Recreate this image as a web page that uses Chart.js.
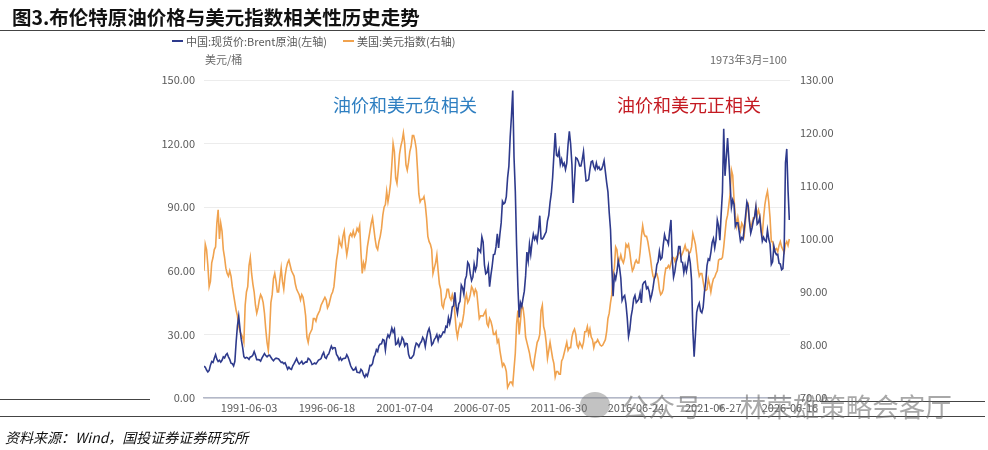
<!DOCTYPE html>
<html lang="zh">
<head>
<meta charset="UTF-8">
<title>布伦特原油与美元指数</title>
<script src="https://cdn.jsdelivr.net/npm/chart.js@4/dist/chart.umd.min.js"></script>
<style>
  body { margin: 0; background: #fff; font-family: "Noto Sans CJK SC", "Noto Sans", sans-serif; }
  #page { position: relative; width: 988px; height: 450px; overflow: hidden; background: #fff; }
  #page div { position: absolute; white-space: nowrap; }
  #title { left: 12px; top: 3px; font-size: 19.5px; font-weight: 700; color: #111; line-height: 28px; }
  .rule { height: 0; border-top: 1.5px solid #444; }
  .leg { font-size: 11px; color: #595959; top: 33px; line-height: 16px; }
  .sw { width: 11px; height: 0; top: 40px; border-top: 2.5px solid; }
  .unit { font-size: 11px; color: #6b6b6b; top: 51px; line-height: 16px; }
  .ann { font-size: 18px; top: 91px; line-height: 26px; }
  #src { left: 5px; top: 427px; font-size: 14px; font-style: italic; color: #111; line-height: 20px; }
  #wm { left: 622px; top: 389px; font-size: 26.5px; color: rgba(110,110,110,0.6); line-height: 34px; }
  #wmicon { left: 580px; top: 392px; width: 30px; height: 26px; border-radius: 50%; background: rgba(120,120,120,0.45); }
  canvas { position: absolute; left: 0; top: 0; }
</style>
</head>
<body>
<div id="page">
  <canvas id="myChart" width="988" height="450"></canvas>

  <div id="title">图3.布伦特原油价格与美元指数相关性历史走势</div>
  <div class="rule" style="left:0; top:30px; width:985px;"></div>

  <div class="sw" style="left:172px; border-color:#2e3a8c;"></div>
  <div class="leg" style="left:186px;">中国:现货价:Brent原油(左轴)</div>
  <div class="sw" style="left:343px; border-color:#f0a24e;"></div>
  <div class="leg" style="left:357px;">美国:美元指数(右轴)</div>

  <div class="unit" style="left:205px;">美元/桶</div>
  <div class="unit" style="left:710px;">1973年3月=100</div>

  <div class="ann" style="left:333px; color:#2f7fc1;">油价和美元负相关</div>
  <div class="ann" style="left:617px; color:#c41a22;">油价和美元正相关</div>

  <div class="rule" style="left:0; top:399px; width:150px;"></div>
  <div class="rule" style="left:820px; top:401px; width:165px;"></div>
  <div class="rule" style="left:0; top:416px; width:985px;"></div>
  <div id="src">资料来源：Wind，国投证券证券研究所</div>

  <div id="wmicon"></div>
  <div id="wm">公众号 · 林荣雄策略会客厅</div>
</div>

<script>
  // monthly series, first value = July 1988
  const startYear = 1988
  const startMonth = 7

  // Brent spot, USD/bbl (left axis)
  const brent = [
    15.0, 14.5, 13.2, 12.3, 13.0, 15.5,
    17.2, 16.8, 18.8, 20.5, 18.3, 17.2, 17.8, 16.9, 17.8, 19.4, 18.9, 20.3,
    21.0, 19.4, 18.2, 16.4, 16.2, 15.1, 17.3, 26.5, 34.0, 38.5, 32.5, 27.5,
    24.0, 19.5, 18.8, 19.2, 18.9, 18.2, 19.4, 19.6, 20.3, 21.9, 20.2, 18.1,
    18.1, 18.0, 17.4, 18.8, 19.9, 21.0, 20.0, 19.4, 20.1, 20.2, 19.2, 18.3,
    17.6, 18.4, 18.8, 18.6, 18.4, 17.6, 16.8, 16.9, 16.2, 16.6, 15.2, 13.6,
    14.6, 13.8, 13.5, 15.2, 16.2, 17.4, 18.6, 17.0, 16.0, 16.6, 17.3, 16.0,
    16.5, 17.0, 16.9, 18.7, 18.3, 17.3, 15.8, 16.1, 16.5, 16.1, 16.9, 17.9,
    18.1, 18.6, 20.4, 21.5, 19.2, 18.7, 20.2, 20.8, 22.8, 24.5, 23.2, 23.8,
    23.6, 20.5, 19.6, 18.0, 19.0, 17.8, 18.5, 18.7, 18.8, 20.4, 19.2, 17.2,
    15.2, 14.0, 13.1, 13.4, 14.4, 12.1, 12.0, 11.9, 13.5, 12.8, 10.9, 9.8,
    11.2, 10.3, 12.6, 15.4, 15.3, 16.2, 19.2, 20.5, 22.8, 21.9, 24.6, 25.5,
    25.6, 27.6, 27.2, 22.6, 27.8, 29.8, 28.6, 30.4, 33.0, 31.0, 32.4, 25.2,
    25.6, 27.5, 24.6, 25.8, 28.6, 27.6, 24.6, 25.8, 25.6, 20.6, 18.8, 18.7,
    19.5, 20.3, 23.8, 25.9, 25.4, 24.2, 25.8, 26.6, 28.6, 27.5, 24.3, 28.2,
    31.3, 32.8, 30.0, 25.0, 25.8, 27.6, 28.5, 29.9, 27.1, 29.6, 28.8, 29.9,
    31.2, 30.9, 33.8, 33.4, 37.9, 35.2, 38.3, 43.0, 43.5, 49.8, 43.2, 39.9,
    44.3, 45.6, 53.3, 52.0, 49.0, 55.8, 57.6, 64.0, 63.0, 58.5, 55.4, 57.0,
    63.2, 60.2, 62.2, 70.4, 69.8, 68.8, 76.0, 73.5, 62.8, 58.6, 59.2, 62.2,
    52.5, 57.8, 62.2, 67.6, 67.8, 71.4, 77.4, 70.8, 77.2, 82.6, 92.8, 91.6,
    92.2, 95.0, 103.8, 109.4, 123.0, 133.0, 145.0, 113.4, 97.4, 71.8, 52.6, 38.0,
    45.0, 43.2, 47.0, 50.4, 57.6, 68.8, 64.6, 72.6, 67.8, 73.4, 77.2, 74.8,
    76.4, 74.0, 79.0, 86.0, 75.2, 75.0, 75.8, 77.2, 78.4, 83.6, 86.2, 92.2,
    96.6, 104.0, 114.8, 125.0, 114.6, 114.0, 116.8, 110.2, 112.6, 109.6, 110.8, 107.8,
    110.8, 119.6, 125.8, 119.8, 110.2, 92.0, 102.6, 113.4, 113.0, 111.6, 109.4, 109.4,
    112.4, 116.2, 108.6, 102.4, 102.6, 103.0, 107.8, 111.4, 111.8, 109.2, 107.8, 110.8,
    108.2, 109.0, 107.6, 107.8, 109.6, 112.0, 106.8, 101.6, 97.2, 87.4, 79.4, 62.0,
    48.0, 58.0, 56.0, 59.6, 64.6, 61.6, 56.6, 46.0, 47.6, 48.4, 44.4, 37.8,
    29.0, 32.2, 38.4, 41.8, 46.8, 48.4, 45.0, 45.8, 46.6, 49.6, 44.8, 53.4,
    54.6, 55.0, 51.6, 52.4, 50.4, 46.4, 48.6, 51.8, 56.2, 57.6, 62.8, 64.4,
    69.2, 65.4, 66.2, 72.2, 77.0, 74.6, 74.4, 72.6, 79.0, 84.0, 65.0, 57.0,
    59.6, 64.2, 66.2, 71.4, 71.4, 64.2, 64.0, 59.2, 62.8, 59.8, 63.2, 67.4,
    63.8, 55.6, 32.0, 19.5, 29.6, 40.4, 43.2, 44.8, 41.0, 40.2, 42.8, 50.0,
    54.8, 62.4, 65.6, 65.0, 68.6, 73.4, 75.2, 70.8, 74.6, 84.0, 81.2, 74.4,
    86.6, 97.2, 127.0, 104.8, 113.4, 122.6, 112.0, 100.6, 90.0, 93.4, 91.4, 81.0,
    82.6, 82.6, 78.6, 74.0, 75.6, 74.8, 80.2, 86.2, 92.5, 90.6, 83.0, 77.8,
    80.2, 83.6, 85.6, 90.2, 82.0, 82.8, 85.2, 79.0, 74.0, 75.8, 74.4, 73.8,
    79.2, 75.0, 72.6, 63.0, 64.2, 71.6, 68.8, 67.6, 67.8, 63.6, 63.2, 60.5,
    61.0, 70.0, 111.0, 117.5, 98.0, 84.0
  ]

  // US dollar index, 1973-03 = 100 (right axis)
  const dxy = [
    94.0, 99.0, 98.0, 95.0, 91.0, 92.0,
    95.5, 96.5, 98.0, 98.5, 103.0, 105.5, 100.0, 103.0, 101.5, 98.0, 96.5, 94.5,
    93.5, 93.0, 94.0, 93.0, 91.0, 89.5, 88.0, 86.5, 85.5, 83.5, 82.5, 82.0,
    81.5, 80.5, 87.5, 90.0, 91.0, 95.0, 96.5, 93.5, 91.5, 90.0, 87.5, 86.0,
    87.0, 88.5, 89.5, 89.0, 88.0, 86.0, 83.0, 80.5, 79.0, 82.5, 88.0, 89.5,
    92.5, 93.5, 92.0, 90.0, 90.0, 92.5, 94.5, 92.0, 90.5, 93.0, 94.5, 95.5,
    96.0, 95.0, 94.0, 93.5, 93.0, 91.5, 90.5, 90.0, 89.5, 88.5, 89.5, 89.0,
    87.5, 85.5, 81.5, 80.5, 82.0, 82.5, 83.0, 85.0, 85.0, 84.5, 85.5, 86.0,
    86.5, 87.5, 88.0, 88.5, 89.0, 88.5, 87.0, 87.5, 88.5, 89.5, 90.0, 91.0,
    93.5, 96.0, 97.5, 100.0, 99.0, 98.5, 100.5, 101.5, 99.0, 97.0, 98.5, 100.5,
    101.0, 100.5, 101.5, 100.5, 101.0, 102.0, 101.5, 102.5, 97.5, 93.5, 95.5, 94.5,
    96.0, 98.5, 100.0, 101.5, 103.0, 104.0, 102.0, 100.0, 98.5, 98.0, 99.5, 100.5,
    102.0, 104.5, 106.0, 106.5, 109.0, 107.0, 108.5, 110.5, 114.0, 118.0, 116.5, 111.5,
    110.5, 113.0, 116.0, 117.5, 118.5, 120.0, 118.0, 114.0, 113.0, 114.5, 116.5, 117.5,
    119.5, 119.5, 118.5, 117.0, 113.0, 108.5, 107.0, 107.5, 107.5, 108.0, 106.5, 104.0,
    100.5, 99.5, 99.0, 98.0, 93.5, 94.5, 95.5, 97.0, 94.0, 91.5, 90.5, 87.5,
    87.0, 88.5, 89.0, 90.5, 90.5, 89.0, 88.5, 89.5, 88.5, 86.0, 83.0, 81.5,
    83.0, 84.0, 83.5, 84.5, 86.0, 88.5, 89.5, 88.0, 88.5, 89.5, 91.0, 90.5,
    89.5, 90.5, 90.0, 87.5, 85.0, 85.5, 85.5, 85.5, 86.0, 86.5, 84.0, 83.5,
    85.0, 84.5, 83.5, 82.0, 82.0, 82.5, 80.5, 81.0, 79.0, 77.5, 76.0, 76.5,
    76.0, 75.0, 72.0, 72.5, 73.0, 73.0, 72.5, 75.5, 78.5, 84.0, 86.5, 82.0,
    84.5, 87.5, 87.0, 85.0, 81.5, 80.5, 79.5, 78.5, 77.0, 76.0, 75.5, 77.5,
    79.0, 80.5, 81.0, 82.0, 86.5, 87.5, 83.5, 82.5, 80.5, 77.5, 79.0, 80.5,
    79.0, 77.5, 76.5, 74.0, 75.0, 75.0, 74.5, 74.5, 77.0, 77.5, 78.5, 79.5,
    80.5, 79.0, 79.5, 79.5, 81.5, 82.5, 83.0, 82.0, 80.0, 79.5, 80.5, 80.0,
    79.5, 80.5, 82.5, 82.5, 83.5, 82.0, 83.0, 81.5, 81.0, 79.5, 80.5, 80.5,
    81.0, 80.5, 80.0, 79.8, 80.0, 80.5, 81.0, 82.5, 85.0, 86.0, 88.0, 89.5,
    93.5, 94.5, 98.5, 98.0, 95.5, 96.0, 97.0, 96.0, 95.5, 96.5, 99.0, 98.5,
    99.0, 97.5, 95.5, 94.0, 94.5, 95.5, 96.0, 95.5, 95.5, 97.5, 100.5, 102.5,
    101.0, 100.5, 100.5, 99.5, 98.0, 96.5, 94.5, 93.0, 92.5, 93.5, 93.5, 92.5,
    90.5, 89.5, 89.8, 90.5, 93.0, 94.5, 94.5, 95.0, 94.5, 95.5, 96.5, 96.5,
    95.8, 96.5, 96.8, 97.3, 97.5, 96.8, 97.3, 98.0, 98.8, 97.8, 98.0, 97.3,
    97.5, 98.5, 101.0, 100.0, 99.0, 97.0, 94.5, 93.0, 93.5, 93.5, 92.0, 90.5,
    90.3, 90.5, 92.5, 91.5, 90.0, 91.5, 92.5, 92.8, 93.5, 94.0, 96.0, 96.2,
    96.2, 96.5, 98.5, 101.0, 103.5, 104.5, 106.5, 108.5, 113.0, 112.0, 107.5, 104.5,
    102.5, 104.0, 102.5, 101.5, 103.0, 102.5, 101.0, 103.5, 106.0, 106.5, 103.5, 102.0,
    103.0, 104.0, 104.0, 106.0, 104.5, 105.5, 104.5, 101.5, 100.8, 104.0, 106.5, 108.0,
    109.0, 107.0, 104.0, 99.5, 99.5, 97.8, 98.0, 98.2, 97.6, 98.8, 99.5, 98.5,
    98.0, 97.5, 99.0, 99.5, 98.8, 100.0
  ]

  // x axis tick labels (dates)
  const tickLabels = ['1991-06-03', '1996-06-18', '2001-07-04', '2006-07-05',
                      '2011-06-30', '2016-06-24', '2021-06-27', '2026-06-16']

  function toYear(s) {
    const p = s.split('-').map(Number)
    return p[0] + (p[1] - 1) / 12 + (p[2] - 1) / 365
  }
  const tickValues = tickLabels.map(toYear)

  function monthX(i) {
    return startYear + (startMonth - 1) / 12 + i / 12
  }

  const brentPts = brent.map((v, i) => ({ x: monthX(i), y: v }))
  const dxyPts = dxy.map((v, i) => ({ x: monthX(i), y: v }))

  const tickFont = { family: '"Noto Sans CJK SC", "Noto Sans", sans-serif', size: 11 }

  const ctx = document.getElementById('myChart').getContext('2d')
  const chart = new Chart(ctx, {
    type: 'line',
    data: {
      datasets: [{
        label: '中国:现货价:Brent原油(左轴)',
        data: brentPts,
        yAxisID: 'y',
        borderColor: '#2e3a8c',
        borderWidth: 1.6,
        pointRadius: 0,
        tension: 0
      }, {
        label: '美国:美元指数(右轴)',
        data: dxyPts,
        yAxisID: 'y1',
        borderColor: '#f0a24e',
        borderWidth: 1.6,
        pointRadius: 0,
        tension: 0
      }]
    },
    options: {
      responsive: false,
      animation: false,
      layout: { padding: { left: 140, right: 138, top: 80, bottom: 32 } },
      plugins: {
        legend: { display: false },
        tooltip: { enabled: false }
      },
      scales: {
        x: {
          type: 'linear',
          min: 1988.5,
          max: 2026.46,
          afterBuildTicks: function (scale) {
            scale.ticks = tickValues.map(v => ({ value: v }))
          },
          afterFit: function (scale) { scale.height = 20 },
          ticks: {
            autoSkip: false,
            maxRotation: 0,
            padding: 3,
            color: '#595959',
            font: tickFont,
            callback: function (v) {
              const k = tickValues.indexOf(v)
              return k >= 0 ? tickLabels[k] : ''
            }
          },
          grid: { display: false, drawTicks: false },
          border: { display: true, color: '#b3b8c8', width: 1.5 }
        },
        y: {
          position: 'left',
          min: 0,
          max: 150,
          afterFit: function (scale) { scale.width = 64 },
          ticks: {
            stepSize: 30,
            padding: 9,
            color: '#595959',
            font: tickFont,
            callback: v => v.toFixed(2)
          },
          grid: { color: '#ececec', drawTicks: false },
          border: { display: false }
        },
        y1: {
          position: 'right',
          min: 70,
          max: 130,
          afterFit: function (scale) { scale.width = 60 },
          ticks: {
            stepSize: 10,
            padding: 10,
            color: '#595959',
            font: tickFont,
            callback: v => v.toFixed(2)
          },
          grid: { display: false, drawTicks: false },
          border: { display: false }
        }
      }
    }
  })
</script>
</body>
</html>
